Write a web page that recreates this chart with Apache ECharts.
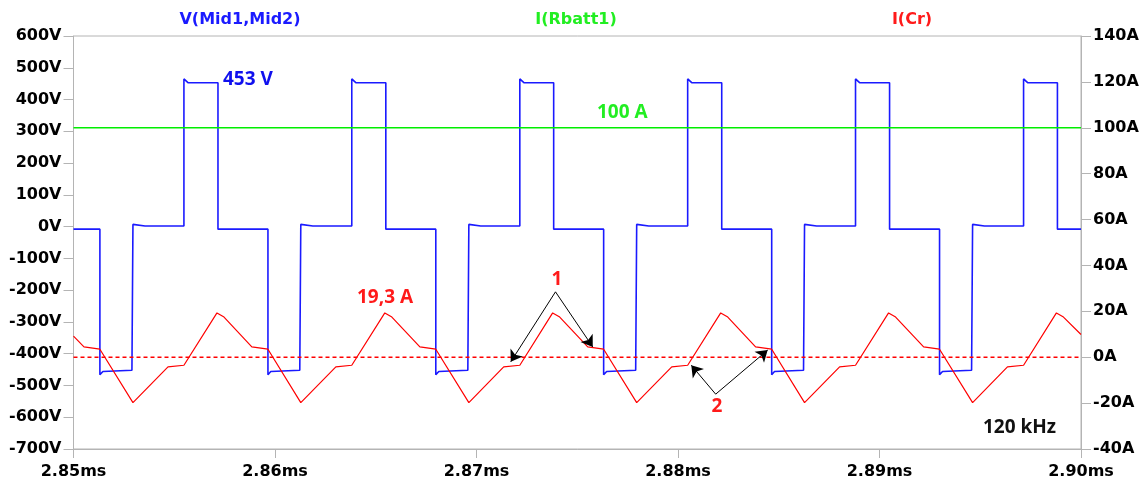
<!DOCTYPE html>
<html>
<head>
<meta charset="utf-8">
<script src="https://cdn.jsdelivr.net/npm/echarts@6/dist/echarts.min.js"></script>
<style>
html,body{margin:0;padding:0;background:#fff;}
#chart{width:1148px;height:483px;}
</style>
</head>
<body>
<div id="chart"></div>
<script>
// time in microseconds (axis shows ms)
const xTicks = [2850, 2860, 2870, 2880, 2890, 2900];
const leftTicksV = [-700, 600];   // min / max volts
const rightTicksA = [-40, 140];   // min / max amps

// V(Mid1,Mid2)
const vTime = [
  2850.00,
  2851.31, 2851.31, 2851.46, 2852.90, 2852.95, 2852.95, 2853.55, 2855.48, 2855.48, 2855.68, 2857.17, 2857.17,
  2859.65, 2859.65, 2859.79, 2861.23, 2861.28, 2861.28, 2861.88, 2863.81, 2863.81, 2864.01, 2865.50, 2865.50,
  2867.98, 2867.98, 2868.13, 2869.57, 2869.62, 2869.62, 2870.21, 2872.15, 2872.15, 2872.35, 2873.83, 2873.83,
  2876.31, 2876.31, 2876.46, 2877.90, 2877.95, 2877.95, 2878.55, 2880.48, 2880.48, 2880.68, 2882.17, 2882.17,
  2884.65, 2884.65, 2884.79, 2886.23, 2886.28, 2886.28, 2886.88, 2888.81, 2888.81, 2889.01, 2890.50, 2890.50,
  2892.98, 2892.98, 2893.13, 2894.57, 2894.62, 2894.62, 2895.21, 2897.15, 2897.15, 2897.35, 2898.83, 2898.83,
  2900.00
];
const vVolts = [
  -8,
  -8, -466, -456, -452, -452, 7, 2, 2, 465, 453, 453, -8,
  -8, -466, -456, -452, -452, 7, 2, 2, 465, 453, 453, -8,
  -8, -466, -456, -452, -452, 7, 2, 2, 465, 453, 453, -8,
  -8, -466, -456, -452, -452, 7, 2, 2, 465, 453, 453, -8,
  -8, -466, -456, -452, -452, 7, 2, 2, 465, 453, 453, -8,
  -8, -466, -456, -452, -452, 7, 2, 2, 465, 453, 453, -8,
  -8
];

// I(Rbatt1)
const battTime = [2850, 2900];
const battAmps = [100, 100];

// I(Cr)
const crTime = [
  2850.00,
  2850.52, 2851.31, 2852.95, 2854.69, 2855.48, 2857.12, 2857.47,
  2858.85, 2859.65, 2861.28, 2863.02, 2863.81, 2865.45, 2865.80,
  2867.19, 2867.98, 2869.62, 2871.35, 2872.15, 2873.78, 2874.13,
  2875.52, 2876.31, 2877.95, 2879.69, 2880.48, 2882.12, 2882.47,
  2883.85, 2884.65, 2886.28, 2888.02, 2888.81, 2890.45, 2890.80,
  2892.19, 2892.98, 2894.62, 2896.35, 2897.15, 2898.78, 2899.13,
  2900.00
];
const crAmps = [
  9.2,
  4.5, 3.5, -19.8, -4.2, -3.5, 19.3, 17.5,
  4.5, 3.5, -19.8, -4.2, -3.5, 19.3, 17.5,
  4.5, 3.5, -19.8, -4.2, -3.5, 19.3, 17.5,
  4.5, 3.5, -19.8, -4.2, -3.5, 19.3, 17.5,
  4.5, 3.5, -19.8, -4.2, -3.5, 19.3, 17.5,
  4.5, 3.5, -19.8, -4.2, -3.5, 19.3, 17.5,
  9.9
];

// 0 A reference (dashed)
const zeroTime = [2850, 2900];
const zeroAmps = [0, 0];

// annotation arrows [startTime, startAmp, endTime, endAmp]
const arrow1a = [2873.92, 28.5, 2871.70, -2.0];
const arrow1b = [2873.92, 28.5, 2875.77, 4.5];
const arrow2a = [2881.87, -16.1, 2880.66, -3.5];
const arrow2b = [2881.87, -16.1, 2884.45, 3.1];

const zip = (a, b) => a.map((t, i) => [t, b[i]]);
const arrowItem = a => [{coord: [a[0], a[1]]}, {coord: [a[2], a[3]]}];

const FONT = 'DejaVu Sans';
const AFONT = 'bold 19px "Open Sans"';
const axisColor = '#b4b4b4';
const labelStyle = {color: '#000', fontFamily: FONT, fontWeight: 'bold', fontSize: 16};

const chart = echarts.init(document.getElementById('chart'), null, {renderer: 'canvas'});
chart.setOption({
  animation: false,
  backgroundColor: '#fff',
  grid: {left: 73.5, right: 67, top: 36, bottom: 34, show: true, borderColor: axisColor, borderWidth: 1},
  xAxis: {
    type: 'value', min: xTicks[0], max: xTicks[xTicks.length - 1], interval: 10,
    axisLine: {onZero: false, lineStyle: {color: axisColor}},
    axisTick: {length: 9, lineStyle: {color: axisColor}},
    splitLine: {show: false},
    axisLabel: Object.assign({margin: 15, formatter: v => (v / 1000).toFixed(2) + 'ms'}, labelStyle)
  },
  yAxis: [
    {
      type: 'value', min: leftTicksV[0], max: leftTicksV[1], interval: 100,
      axisLine: {show: true, onZero: false, lineStyle: {color: axisColor}},
      axisTick: {show: true, length: 10, lineStyle: {color: axisColor}},
      splitLine: {show: false},
      axisLabel: Object.assign({margin: 12, formatter: v => v + 'V'}, labelStyle)
    },
    {
      type: 'value', min: rightTicksA[0], max: rightTicksA[1], interval: 20, position: 'right',
      axisLine: {show: true, onZero: false, lineStyle: {color: axisColor}},
      axisTick: {show: true, length: 10, lineStyle: {color: axisColor}},
      splitLine: {show: false},
      axisLabel: Object.assign({margin: 12, formatter: v => v + 'A'}, labelStyle)
    }
  ],
  series: [
    {
      name: 'V(Mid1,Mid2)', type: 'line', yAxisIndex: 0, showSymbol: false, symbol: 'none',
      color: '#1a1aff',
      data: zip(vTime, vVolts),
      lineStyle: {color: '#1a1aff', width: 1.6}
    },
    {
      name: 'I(Rbatt1)', type: 'line', yAxisIndex: 1, showSymbol: false, symbol: 'none',
      color: '#00ee00',
      data: zip(battTime, battAmps),
      lineStyle: {color: '#00ee00', width: 1.4}
    },
    {
      name: 'zero', type: 'line', yAxisIndex: 1, showSymbol: false, symbol: 'none',
      color: '#ff0000',
      data: zip(zeroTime, zeroAmps),
      lineStyle: {color: '#ff0000', width: 1.4, type: [4, 3]}
    },
    {
      name: 'I(Cr)', type: 'line', yAxisIndex: 1, showSymbol: false, symbol: 'none',
      color: '#ff0000',
      data: zip(crTime, crAmps),
      lineStyle: {color: '#ff0000', width: 1.2}
    },
    {
      name: 'arrows', type: 'line', yAxisIndex: 1, data: [], showSymbol: false,
      color: '#000',
      markLine: {
        silent: true, symbol: ['none', 'arrow'], symbolSize: 11, label: {show: false},
        lineStyle: {color: '#000', type: 'solid', width: 1},
        data: [arrowItem(arrow1a), arrowItem(arrow1b), arrowItem(arrow2a), arrowItem(arrow2b)]
      }
    }
  ],
  graphic: [
    {type: 'text', x: 240, y: 20, style: {text: 'V(Mid1,Mid2)', fill: '#1a1aff', font: 'bold 16px "DejaVu Sans"', textAlign: 'center', textVerticalAlign: 'middle'}},
    {type: 'text', x: 576, y: 20, style: {text: 'I(Rbatt1)', fill: '#22ee22', font: 'bold 16px "DejaVu Sans"', textAlign: 'center', textVerticalAlign: 'middle'}},
    {type: 'text', x: 912, y: 20, style: {text: 'I(Cr)', fill: '#ff1a1a', font: 'bold 16px "DejaVu Sans"', textAlign: 'center', textVerticalAlign: 'middle'}},
    {type: 'text', x: 223, y: 80, style: {text: '453 V', fill: '#1010ee', font: AFONT, textAlign: 'left', textVerticalAlign: 'middle'}},
    {type: 'text', x: 597, y: 113, style: {text: '100 A', fill: '#22ee22', font: AFONT, textAlign: 'left', textVerticalAlign: 'middle'}},
    {type: 'text', x: 357, y: 298, style: {text: '19,3 A', fill: '#ff1a1a', font: AFONT, textAlign: 'left', textVerticalAlign: 'middle'}},
    {type: 'text', x: 557, y: 280, style: {text: '1', fill: '#ff1a1a', font: AFONT, textAlign: 'center', textVerticalAlign: 'middle'}},
    {type: 'text', x: 717, y: 407, style: {text: '2', fill: '#ff1a1a', font: AFONT, textAlign: 'center', textVerticalAlign: 'middle'}},
    {type: 'text', x: 983, y: 428, style: {text: '120 kHz', fill: '#111', font: AFONT, textAlign: 'left', textVerticalAlign: 'middle'}}
  ]
});
</script>
</body>
</html>
